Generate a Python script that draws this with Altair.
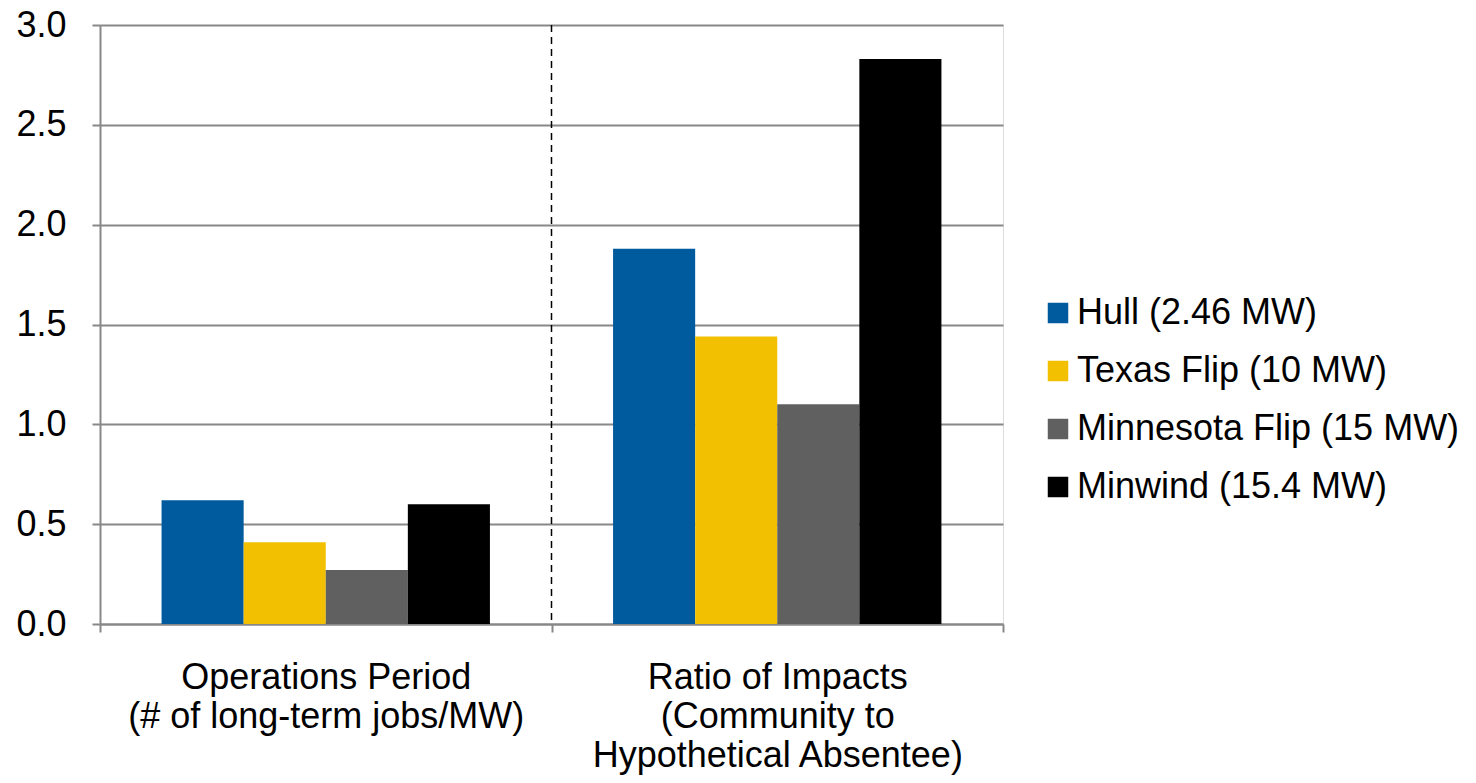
import altair as alt
import pandas as pd

categories = ["Operations Period\n(# of long-term jobs/MW)",
              "Ratio of Impacts\n(Community to\nHypothetical Absentee)"]
series = ["Hull (2.46 MW)", "Texas Flip (10 MW)", "Minnesota Flip (15 MW)", "Minwind (15.4 MW)"]
colors = ["#005A9E", "#F2C000", "#606060", "#000000"]
hull = [0.62, 1.88]
texas = [0.41, 1.44]
minnesota = [0.27, 1.10]
minwind = [0.60, 2.83]

rows = []
for s, vals in zip(series, [hull, texas, minnesota, minwind]):
    for c, v in zip(categories, vals):
        rows.append({"category": c, "series": s, "value": v})
df = pd.DataFrame(rows)

FONT = "Liberation Sans"
W, H = 903, 599

x_enc = alt.X("category:N", sort=categories,
              scale=alt.Scale(paddingInner=0, paddingOuter=0),
              axis=alt.Axis(title=None, labelAngle=0, labelExpr="split(datum.label, '\\n')",
                            labelFont=FONT, labelFontSize=36, labelColor="#000000",
                            labelLineHeight=39, labelPadding=28, labelBaseline="top", labelLimit=0,
                            tickBand="extent", tickSize=8, tickColor="#888888", tickWidth=2,
                            domainColor="#888888", domainWidth=2, grid=False))

bars = alt.Chart(df).mark_bar().encode(
    x=x_enc,
    xOffset=alt.XOffset("series:N", sort=series, scale=alt.Scale(paddingOuter=0.75, paddingInner=0)),
    y=alt.Y("value:Q", scale=alt.Scale(domain=[0, 3], nice=False),
            axis=alt.Axis(title=None, values=[0, 0.5, 1, 1.5, 2, 2.5, 3], format=".1f",
                          labelFont=FONT, labelFontSize=36, labelColor="#000000", labelPadding=26,
                          tickSize=8, tickColor="#888888", tickWidth=2,
                          domainColor="#888888", domainWidth=2,
                          gridColor="#888888", gridWidth=2)),
    color=alt.Color("series:N", sort=series, scale=alt.Scale(domain=series, range=colors),
                    legend=alt.Legend(title=None, orient="none", legendX=940, legendY=270,
                                      symbolType="square", symbolSize=420, symbolStrokeWidth=0,
                                      labelFont=FONT, labelFontSize=36, labelColor="#000000",
                                      labelOffset=1, rowPadding=22, labelLimit=500)),
)

div_df = pd.DataFrame({"category": [categories[1]], "top": [3.0], "bottom": [0.0]})
divider = alt.Chart(div_df).mark_rule(color="#000000", strokeDash=[7, 5], strokeWidth=1.5).encode(
    x=alt.X("category:N", sort=categories, bandPosition=0),
    y="top:Q", y2="bottom:Q",
)

chart = alt.layer(bars, divider).properties(
    width=W, height=H,
    autosize=alt.AutoSizeParams(type="none"),
    padding={"left": 92, "top": 17, "right": 465, "bottom": 151},
).configure_view(stroke=None).configure(background="#ffffff")

chart.save("out.html", embed_options={"renderer": "svg", "actions": False})
